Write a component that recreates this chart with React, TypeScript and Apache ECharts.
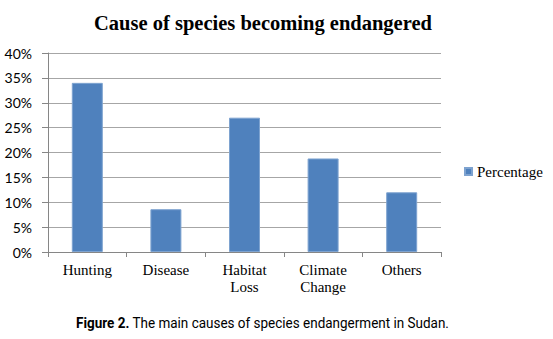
import React, { useEffect, useRef } from "react";
import * as echarts from "echarts";

const categories = ["Hunting", "Disease", "Habitat\nLoss", "Climate\nChange", "Others"];
const percentage = [34, 8.6, 27, 18.8, 12];
const seriesName = "Percentage";
const titleText = "Cause of species becoming endangered";
const captionBold = "Figure 2.";
const captionRest = " The main causes of species endangerment in Sudan.";

export default function App() {
  const ref = useRef<HTMLDivElement>(null);
  useEffect(() => {
    if (!ref.current) return;
    const chart = echarts.init(ref.current, null, { renderer: "svg" });
    chart.setOption({
      animation: false,
      backgroundColor: "#ffffff",
      title: {
        text: titleText,
        left: 258,
        top: 7,
        textAlign: "center",
        textStyle: {
          fontFamily: "Liberation Serif",
          fontWeight: "bold",
          fontSize: 20.5,
          color: "#000",
        },
      },
      legend: {
        orient: "vertical",
        left: 464,
        top: 164,
        padding: 0,
        icon: "rect",
        itemWidth: 7,
        itemHeight: 7,
        itemGap: 5,
        textStyle: { fontFamily: "Liberation Serif", fontSize: 15, color: "#000" },
        data: [seriesName],
      },
      grid: { left: 48, right: 112, top: 53, bottom: 87, containLabel: false },
      xAxis: {
        type: "category",
        data: categories,
        axisLine: { show: true, lineStyle: { color: "#868686", width: 1 } },
        axisTick: { show: true, length: 5, lineStyle: { color: "#868686" } },
        axisLabel: {
          fontFamily: "Liberation Serif",
          fontSize: 15,
          color: "#000",
          margin: 9,
          lineHeight: 17,
          interval: 0,
        },
      },
      yAxis: {
        type: "value",
        min: 0,
        max: 40,
        interval: 5,
        axisLine: { show: true, lineStyle: { color: "#868686", width: 1 } },
        axisTick: { show: true, length: 6, lineStyle: { color: "#868686" } },
        axisLabel: {
          formatter: "{value}%",
          fontFamily: "Lato",
          fontSize: 14,
          color: "#000",
          margin: 16,
        },
        splitLine: { show: true, lineStyle: { color: "#A6A6A6", width: 1 } },
      },
      series: [
        {
          name: seriesName,
          type: "bar",
          data: percentage,
          barWidth: 31,
          itemStyle: { color: "#4F81BD", borderColor: "#7EA3D0", borderWidth: 1 },
        },
      ],
      graphic: [
        {
          type: "group",
          x: 76,
          y: 315,
          scaleX: 0.9,
          children: [
            {
              type: "text",
              x: 0,
              y: 0,
              style: {
                text: "{b|" + captionBold + "}{r|" + captionRest + "}",
                rich: {
                  b: { fontFamily: "Roboto", fontWeight: "bold", fontSize: 15, fill: "#000" },
                  r: { fontFamily: "Roboto", fontSize: 15, fill: "#000" },
                },
                fill: "#000",
                verticalAlign: "top",
              },
            },
          ],
        },
      ],
    });
    return () => chart.dispose();
  }, []);
  return (
    <div
      ref={ref}
      style={{ position: "absolute", left: 0, top: 0, width: 553, height: 339 }}
    />
  );
}
